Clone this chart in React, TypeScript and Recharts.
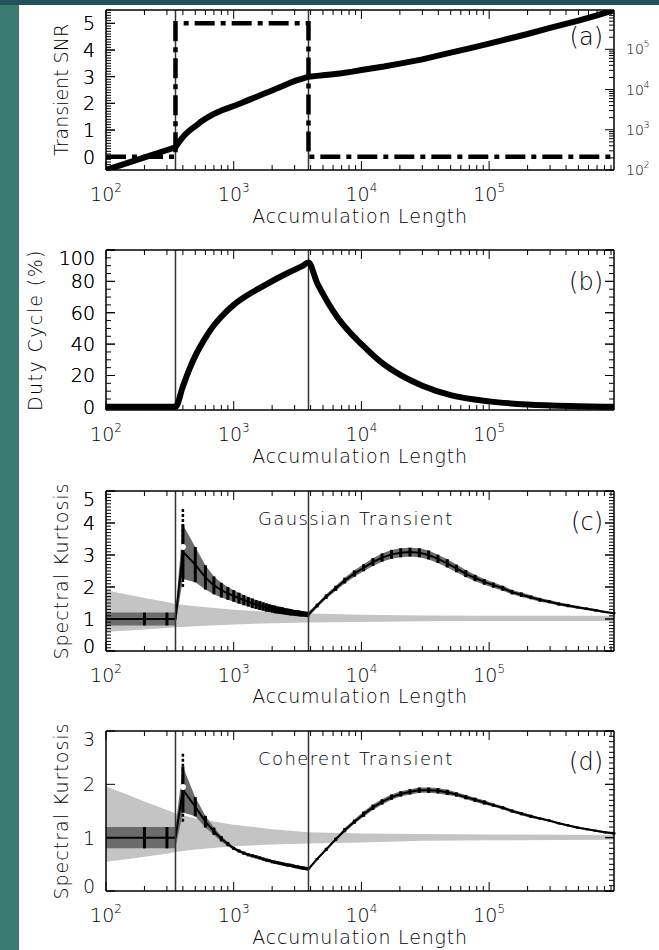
import React from 'react';
import { ComposedChart, Line, Area, XAxis, YAxis, ReferenceLine, ErrorBar } from 'recharts';

const FONT = "'DejaVu Sans', 'Liberation Sans', sans-serif";
const FW = 200;
const X_DOMAIN: [number, number] = [100, 950000];
const T_START = 350;
const T_END = 3850;

// ---------- axis ticks ----------
const xMajorTicks = [100, 1000, 10000, 100000];
const xMajorExponents = ['2', '3', '4', '5'];
const xMinorTicks = [200, 300, 400, 500, 600, 700, 800, 900, 2000, 3000, 4000, 5000, 6000, 7000, 8000, 9000,
  20000, 30000, 40000, 50000, 60000, 70000, 80000, 90000, 200000, 300000, 400000, 500000, 600000, 700000, 800000, 900000];

const snrMajorTicks = [0, 1, 2, 3, 4, 5];
const snrTickLabels = ['0', '1', '2', '3', '4', '5'];
const rightLogMajorTicks = [100, 1000, 10000, 100000];
const rightLogExponents = ['2', '3', '4', '5'];
const dutyMajorTicks = [0, 20, 40, 60, 80, 100];
const dutyTickLabels = ['0', '20', '40', '60', '80', '100'];
const skGMajorTicks = [0, 1, 2, 3, 4, 5];
const skGTickLabels = ['0', '1', '2', '3', '4', '5'];
const skCMajorTicks = [0, 1, 2, 3];
const skCTickLabels = ['0', '1', '2', '3'];

// ---------- (a) transient SNR ----------
const snrN = [100, 350, 360, 380, 400, 420, 450, 480, 520, 550, 600, 650, 720, 800, 900, 1000, 1150, 1300, 1500, 1700,
  2000, 2200, 2500, 2800, 3100, 3400, 3850, 4500, 5000, 6000, 7000, 8500, 10000, 15000, 20000, 30000, 50000, 70000,
  100000, 150000, 200000, 300000, 500000, 700000, 950000];
const snrV = [-0.5, 0.35, 0.45, 0.6, 0.73, 0.85, 0.98, 1.08, 1.2, 1.3, 1.42, 1.52, 1.63, 1.73, 1.82, 1.9, 2.01, 2.12, 2.24, 2.35,
  2.48, 2.57, 2.68, 2.78, 2.86, 2.92, 3.0, 3.03, 3.05, 3.09, 3.13, 3.19, 3.25, 3.38, 3.49, 3.65, 3.9, 4.06,
  4.24, 4.45, 4.6, 4.83, 5.1, 5.3, 5.5];
const windowN = [100, 350, 350, 3850, 3850, 950000];
const windowV = [0, 0, 5, 5, 0, 0];

// ---------- (b) duty cycle ----------
const dutyN = [100, 350, 400, 450, 500, 600, 700, 800, 1000, 1300, 1700, 2200, 2800, 3400, 3850,
  4500, 5000, 5500, 6500, 8000, 10000, 14000, 20000, 30000, 50000, 100000, 200000, 500000, 950000];
const dutyV = [0, 0, 13, 24, 32.5, 44, 52, 57.5, 65, 71.5, 77, 82, 86.3, 89.5, 92,
  79, 72, 66, 57, 48, 40, 29, 20.5, 13.5, 7.5, 3.5, 1.5, 0.4, 0];

// ---------- (c),(d) spectral kurtosis ----------
const skN = [100, 200, 300, 350,
  400, 500, 600, 700, 800, 900, 1000, 1100, 1200, 1300, 1400, 1500, 1600, 1700, 1800, 1900, 2000, 2100, 2200, 2300, 2400,
  2500, 2600, 2700, 2800, 2900, 3000, 3100, 3200, 3300, 3400, 3500, 3600, 3700, 3800, 3850,
  4500, 5300, 6300, 7400, 8800, 10400, 12300, 14500, 17200, 20300, 24000, 28400, 33600, 39700, 47000, 55500, 65600,
  77600, 91700, 108000, 128000, 151000, 179000, 212000, 250000, 296000, 350000, 414000, 489000, 578000, 683000, 808000, 950000];

const skMeanG = [1, 1, 1, 1,
  3.1, 2.7, 2.3, 2.05, 1.9, 1.8, 1.72, 1.65, 1.59, 1.54, 1.49, 1.45, 1.42, 1.39, 1.36, 1.34, 1.32, 1.3, 1.28, 1.27, 1.26,
  1.24, 1.23, 1.22, 1.21, 1.2, 1.19, 1.18, 1.18, 1.17, 1.16, 1.16, 1.15, 1.15, 1.14, 1.14,
  1.42, 1.7, 1.96, 2.2, 2.42, 2.6, 2.78, 2.92, 3.02, 3.07, 3.09, 3.07, 3.0, 2.88, 2.74, 2.58, 2.42,
  2.28, 2.16, 2.06, 1.96, 1.84, 1.76, 1.68, 1.6, 1.54, 1.47, 1.42, 1.37, 1.32, 1.27, 1.22, 1.18];
const skSpreadG = [0.2, 0.2, 0.2, 0.2,
  0.85, 0.55, 0.38, 0.28, 0.23, 0.2, 0.18, 0.17, 0.16, 0.15, 0.15, 0.14, 0.14, 0.13, 0.13, 0.12, 0.12, 0.12, 0.11, 0.11, 0.11,
  0.1, 0.1, 0.1, 0.1, 0.09, 0.09, 0.09, 0.09, 0.09, 0.08, 0.08, 0.08, 0.08, 0.08, 0.08,
  0.06, 0.07, 0.08, 0.09, 0.1, 0.11, 0.12, 0.13, 0.14, 0.14, 0.14, 0.14, 0.14, 0.13, 0.13, 0.12, 0.11,
  0.1, 0.09, 0.08, 0.08, 0.07, 0.07, 0.06, 0.06, 0.05, 0.05, 0.05, 0.04, 0.04, 0.04, 0.03, 0.03];

const skMeanC = [1, 1, 1, 1,
  1.9, 1.58, 1.3, 1.12, 0.98, 0.88, 0.8, 0.75, 0.71, 0.68, 0.66, 0.64, 0.62, 0.6, 0.58, 0.57, 0.55, 0.54, 0.53, 0.52, 0.51,
  0.5, 0.49, 0.485, 0.48, 0.47, 0.46, 0.455, 0.45, 0.44, 0.435, 0.43, 0.425, 0.42, 0.415, 0.41,
  0.6, 0.78, 0.97, 1.14, 1.3, 1.44, 1.57, 1.67, 1.76, 1.82, 1.86, 1.89, 1.89, 1.88, 1.85, 1.81, 1.76,
  1.71, 1.66, 1.61, 1.56, 1.5, 1.45, 1.4, 1.36, 1.32, 1.27, 1.23, 1.19, 1.16, 1.13, 1.1, 1.08];
const skSpreadC = [0.2, 0.2, 0.2, 0.2,
  0.43, 0.18, 0.11, 0.07, 0.05, 0.04, 0.03, 0.03, 0.03, 0.03, 0.03, 0.03, 0.03, 0.03, 0.03, 0.03, 0.03, 0.03, 0.03, 0.03, 0.03,
  0.03, 0.03, 0.03, 0.03, 0.03, 0.03, 0.03, 0.03, 0.03, 0.03, 0.03, 0.03, 0.03, 0.03, 0.03,
  0.02, 0.03, 0.03, 0.04, 0.04, 0.05, 0.05, 0.05, 0.05, 0.05, 0.05, 0.05, 0.05, 0.05, 0.05, 0.04, 0.04,
  0.04, 0.04, 0.03, 0.03, 0.03, 0.03, 0.03, 0.02, 0.02, 0.02, 0.02, 0.02, 0.02, 0.02, 0.02, 0.02];

// threshold (light grey) bands
const lightN = [100, 150, 200, 300, 350, 500, 1000, 2000, 3850, 10000, 30000, 100000, 950000];
const lightLoG = [0.6, 0.64, 0.67, 0.72, 0.74, 0.77, 0.83, 0.87, 0.89, 0.91, 0.93, 0.94, 0.94];
const lightHiG = [1.9, 1.76, 1.66, 1.53, 1.47, 1.4, 1.29, 1.22, 1.17, 1.13, 1.11, 1.1, 1.1];
const lightLoC = [0.55, 0.6, 0.64, 0.7, 0.73, 0.78, 0.84, 0.87, 0.89, 0.91, 0.94, 0.95, 0.96];
const lightHiC = [1.96, 1.8, 1.68, 1.52, 1.46, 1.36, 1.24, 1.16, 1.1, 1.08, 1.07, 1.06, 1.05];

// outlier spread just after the transient start
const spikeNG = [400];
const spikeLoG = [2.0];
const spikeHiG = [4.5];
const spikeNC = [400];
const spikeLoC = [1.3];
const spikeHiC = [2.6];

// ---------- tables ----------
const snrData = snrN.map((n, i) => ({ n, v: snrV[i] }));
const windowData = windowN.map((n, i) => ({ n, v: windowV[i] }));
const dutyData = dutyN.map((n, i) => ({ n, v: dutyV[i] }));
const noBar = [100, T_START, T_END];
const skTable = (mean: number[], spread: number[]) =>
  skN.map((n, i) => ({
    n,
    mean: mean[i],
    band: [mean[i] - spread[i], mean[i] + spread[i]],
    err: noBar.includes(n) ? null : [spread[i], spread[i]],
  }));
const skDataG = skTable(skMeanG, skSpreadG);
const skDataC = skTable(skMeanC, skSpreadC);
const lightDataG = lightN.map((n, i) => ({ n, band: [lightLoG[i], lightHiG[i]] }));
const lightDataC = lightN.map((n, i) => ({ n, band: [lightLoC[i], lightHiC[i]] }));
const spikeTable = (ns: number[], lo: number[], hi: number[]) =>
  ns.map((n, i) => ({ n, mid: (lo[i] + hi[i]) / 2, err: [(hi[i] - lo[i]) / 2, (hi[i] - lo[i]) / 2] }));
const spikeDataG = spikeTable(spikeNG, spikeLoG, spikeHiG);
const spikeDataC = spikeTable(spikeNC, spikeLoC, spikeHiC);

// ---------- tick helpers ----------
const stepTicks = (a: number, b: number, s: number) => {
  const out: number[] = [];
  const k = Math.round((b - a) / s);
  for (let i = 0; i <= k; i++) out.push(Math.round((a + i * s) * 1000) / 1000);
  return out;
};
const near = (a: number, b: number) => Math.abs(a - b) <= 1e-6 * Math.max(1, Math.abs(b));
const xAllTicks = [...xMajorTicks, ...xMinorTicks].sort((a, b) => a - b);

const PLOT_TOP = 10;
const PLOT_BOTTOM = 170;
const AXIS_LINE = { stroke: '#000', strokeWidth: 1.5 };
const MAJ = 9;
const MIN = 5;

const BottomTick = (props: any) => {
  const { x, y, payload } = props;
  const mi = xMajorTicks.findIndex((m) => near(payload.value, m));
  const len = mi >= 0 ? MAJ : MIN;
  return (
    <g>
      <line x1={x} y1={y} x2={x} y2={y - len} stroke="#000" strokeWidth={1} />
      {mi >= 0 && (
        <text x={x} y={y + 31} textAnchor="middle" fontFamily={FONT} fontWeight={FW} fontSize={19} fill="#000">
          10<tspan fontSize={12} dy={-9}>{xMajorExponents[mi]}</tspan>
        </text>
      )}
    </g>
  );
};

const TopTick = (props: any) => {
  const { x, y, payload } = props;
  const isMajor = xMajorTicks.some((m) => near(payload.value, m));
  const len = isMajor ? MAJ : MIN;
  return <line x1={x} y1={y} x2={x} y2={y + len} stroke="#000" strokeWidth={1} />;
};

const makeLeftTick = (majors: number[], labels: string[]) => (props: any) => {
  const { x, y, payload } = props;
  const mi = majors.findIndex((m) => near(payload.value, m));
  const len = mi >= 0 ? MAJ : MIN;
  let ly = y;
  if (y < PLOT_TOP + 3) ly = y + 8;
  else if (y > PLOT_BOTTOM - 3) ly = y - 5;
  return (
    <g>
      <line x1={x} y1={y} x2={x + len} y2={y} stroke="#000" strokeWidth={1} />
      {mi >= 0 && (
        <text x={x - 11} y={ly + 7} textAnchor="end" fontFamily={FONT} fontWeight={FW} fontSize={19} fill="#000">
          {labels[mi]}
        </text>
      )}
    </g>
  );
};

const makeRightTick = (majors: number[]) => (props: any) => {
  const { x, y, payload } = props;
  const isMajor = majors.some((m) => near(payload.value, m));
  const len = isMajor ? MAJ : MIN;
  return <line x1={x} y1={y} x2={x - len} y2={y} stroke="#000" strokeWidth={1} />;
};

const RightLogTick = (props: any) => {
  const { x, y, payload } = props;
  const mi = rightLogMajorTicks.findIndex((m) => near(payload.value, m));
  const len = mi >= 0 ? MAJ : MIN;
  return (
    <g>
      <line x1={x} y1={y} x2={x - len} y2={y} stroke="#000" strokeWidth={1} />
      {mi >= 0 && (
        <text x={x + 12} y={y + 5} textAnchor="start" fontFamily={FONT} fontWeight={FW} fontSize={14} fill="#000">
          10<tspan fontSize={9} dy={-7}>{rightLogExponents[mi]}</tspan>
        </text>
      )}
    </g>
  );
};

const xAxes = () => [
  <XAxis key="xb" xAxisId="b" dataKey="n" type="number" scale="log" domain={X_DOMAIN} allowDataOverflow
    ticks={xAllTicks} interval={0} height={1} tickSize={0} tickMargin={0} axisLine={AXIS_LINE} tickLine={false} tick={BottomTick} />,
  <XAxis key="xt" xAxisId="t" dataKey="n" orientation="top" type="number" scale="log" domain={X_DOMAIN} allowDataOverflow
    ticks={xAllTicks} interval={0} height={1} tickSize={0} tickMargin={0} axisLine={AXIS_LINE} tickLine={false} tick={TopTick} />,
];

const yAxes = (domain: [number, number], majors: number[], labels: string[], minorsL: number[], minorsR: number[]) => [
  <YAxis key="yl" yAxisId="l" type="number" domain={domain} allowDataOverflow
    ticks={[...majors, ...minorsL]} interval={0} width={1} tickSize={0} tickMargin={0} axisLine={AXIS_LINE} tickLine={false}
    tick={makeLeftTick(majors, labels)} />,
  <YAxis key="yr" yAxisId="r" orientation="right" type="number" domain={domain} allowDataOverflow
    ticks={[...majors, ...minorsR]} interval={0} width={1} tickSize={0} tickMargin={0} axisLine={AXIS_LINE} tickLine={false}
    tick={makeRightTick(majors)} />,
];

const refLines = () => [
  <ReferenceLine key="r1" x={T_START} xAxisId="b" yAxisId="l" stroke="#333" strokeWidth={1.5} />,
  <ReferenceLine key="r2" x={T_END} xAxisId="b" yAxisId="l" stroke="#333" strokeWidth={1.5} />,
];

// plot area: left 106, right 614, top 10, bottom 170 inside each 240px tall chart
const MARGIN = { top: 9, right: 44, bottom: 69, left: 105 };
const W = 659;
const H = 240;

const skPanel = (light: any[], data: any[], spikes: any[]) => [
  <Area key="light" data={light} dataKey="band" xAxisId="b" yAxisId="l" type="linear" stroke="none"
    fill="#c4c4c4" fillOpacity={1} isAnimationActive={false} dot={false} activeDot={false} />,
  <Area key="dark" data={data} dataKey="band" xAxisId="b" yAxisId="l" type="linear" stroke="none"
    fill="#6c6c6c" fillOpacity={1} isAnimationActive={false} dot={false} activeDot={false} />,
  <Line key="spike" data={spikes} dataKey="mid" xAxisId="b" yAxisId="l" stroke="none" strokeWidth={0}
    dot={false} activeDot={false} isAnimationActive={false}>
    <ErrorBar dataKey="err" direction="y" width={0} stroke="#000" strokeWidth={2.5} strokeDasharray="3 2" />
  </Line>,
  <Line key="mean" data={data} dataKey="mean" xAxisId="b" yAxisId="l" type="linear" stroke="#000" strokeWidth={2}
    dot={false} activeDot={false} isAnimationActive={false}>
    <ErrorBar dataKey="err" direction="y" width={0} stroke="#000" strokeWidth={3} />
  </Line>,
];

export default function App() {
  const snrMinors = stepTicks(-0.5, 5.5, 0.1);
  const dutyMinors = stepTicks(0, 100, 5);
  const skGMinors = stepTicks(0, 5, 0.1);
  const skCMinors = stepTicks(0, 3, 0.1);
  const txt = { fontFamily: FONT, fontWeight: FW, fill: '#000' };

  return (
    <div style={{ position: 'absolute', left: 0, top: 0, width: 659, height: 950, background: '#fff', overflow: 'hidden' }}>
      <div style={{ position: 'absolute', left: 0, top: 0, width: 19, height: 950, background: '#3b7a70' }} />
      <div style={{ position: 'absolute', left: 0, top: 0, width: 659, height: 5, background: '#22525a' }} />

      {/* (a) */}
      <div style={{ position: 'absolute', left: 0, top: 0 }}>
        <ComposedChart width={W} height={H} margin={MARGIN}>
          {xAxes()}
          <YAxis yAxisId="l" type="number" domain={[-0.5, 5.5]} allowDataOverflow
            ticks={[...snrMajorTicks, ...snrMinors]} interval={0} width={1} tickSize={0} tickMargin={0}
            axisLine={AXIS_LINE} tickLine={false} tick={makeLeftTick(snrMajorTicks, snrTickLabels)} />
          <YAxis yAxisId="r" orientation="right" type="number" scale="log" domain={X_DOMAIN} allowDataOverflow
            ticks={xAllTicks} interval={0} width={1} tickSize={0} tickMargin={0}
            axisLine={AXIS_LINE} tickLine={false} tick={RightLogTick} />
          {refLines()}
          <Line data={windowData} dataKey="v" xAxisId="b" yAxisId="l" type="linear" stroke="#000" strokeWidth={4.5}
            strokeDasharray="20 6 5 6" dot={false} activeDot={false} isAnimationActive={false} />
          <Line data={snrData} dataKey="v" xAxisId="b" yAxisId="l" type="linear" stroke="#000" strokeWidth={6}
            dot={false} activeDot={false} isAnimationActive={false} />
        </ComposedChart>
      </div>

      {/* (b) */}
      <div style={{ position: 'absolute', left: 0, top: 240 }}>
        <ComposedChart width={W} height={H} margin={MARGIN}>
          {xAxes()}
          {yAxes([-2, 100], dutyMajorTicks, dutyTickLabels, dutyMinors, dutyMinors)}
          {refLines()}
          <Line data={dutyData} dataKey="v" xAxisId="b" yAxisId="l" type="monotone" stroke="#000" strokeWidth={6}
            dot={false} activeDot={false} isAnimationActive={false} />
        </ComposedChart>
      </div>

      {/* (c) */}
      <div style={{ position: 'absolute', left: 0, top: 481 }}>
        <ComposedChart width={W} height={H} margin={MARGIN}>
          {xAxes()}
          {yAxes([0, 5], skGMajorTicks, skGTickLabels, skGMinors, skGMinors)}
          {skPanel(lightDataG, skDataG, spikeDataG)}
          {refLines()}
        </ComposedChart>
      </div>

      {/* (d) */}
      <div style={{ position: 'absolute', left: 0, top: 721 }}>
        <ComposedChart width={W} height={H} margin={MARGIN}>
          {xAxes()}
          {yAxes([0, 3], skCMajorTicks, skCTickLabels, [], skCMinors)}
          {skPanel(lightDataC, skDataC, spikeDataC)}
          {refLines()}
        </ComposedChart>
      </div>

      <svg width={659} height={950} style={{ position: 'absolute', left: 0, top: 0, pointerEvents: 'none' }}>
        <text transform="translate(68,90) rotate(-90)" textAnchor="middle" fontSize={19} {...txt}>Transient SNR</text>
        <text transform="translate(42,330) rotate(-90)" textAnchor="middle" fontSize={19} letterSpacing={1.4} {...txt}>Duty Cycle (%)</text>
        <text transform="translate(68,571) rotate(-90)" textAnchor="middle" fontSize={19} letterSpacing={1} {...txt}>Spectral Kurtosis</text>
        <text transform="translate(68,811) rotate(-90)" textAnchor="middle" fontSize={19} letterSpacing={1} {...txt}>Spectral Kurtosis</text>

        <text x={360} y={223} textAnchor="middle" fontSize={19} letterSpacing={0.8} {...txt}>Accumulation Length</text>
        <text x={360} y={463} textAnchor="middle" fontSize={19} letterSpacing={0.8} {...txt}>Accumulation Length</text>
        <text x={360} y={703} textAnchor="middle" fontSize={19} letterSpacing={0.8} {...txt}>Accumulation Length</text>
        <text x={360} y={944} textAnchor="middle" fontSize={19} letterSpacing={0.8} {...txt}>Accumulation Length</text>

        <text x={603} y={45} textAnchor="end" fontSize={24} {...txt}>(a)</text>
        <text x={603} y={290} textAnchor="end" fontSize={24} {...txt}>(b)</text>
        <text x={603} y={530} textAnchor="end" fontSize={24} {...txt}>(c)</text>
        <text x={603} y={770} textAnchor="end" fontSize={24} {...txt}>(d)</text>

        <text x={258} y={525} textAnchor="start" fontSize={18} letterSpacing={1.4} {...txt}>Gaussian Transient</text>
        <text x={258} y={765} textAnchor="start" fontSize={18} letterSpacing={1.4} {...txt}>Coherent Transient</text>
      </svg>
    </div>
  );
}
